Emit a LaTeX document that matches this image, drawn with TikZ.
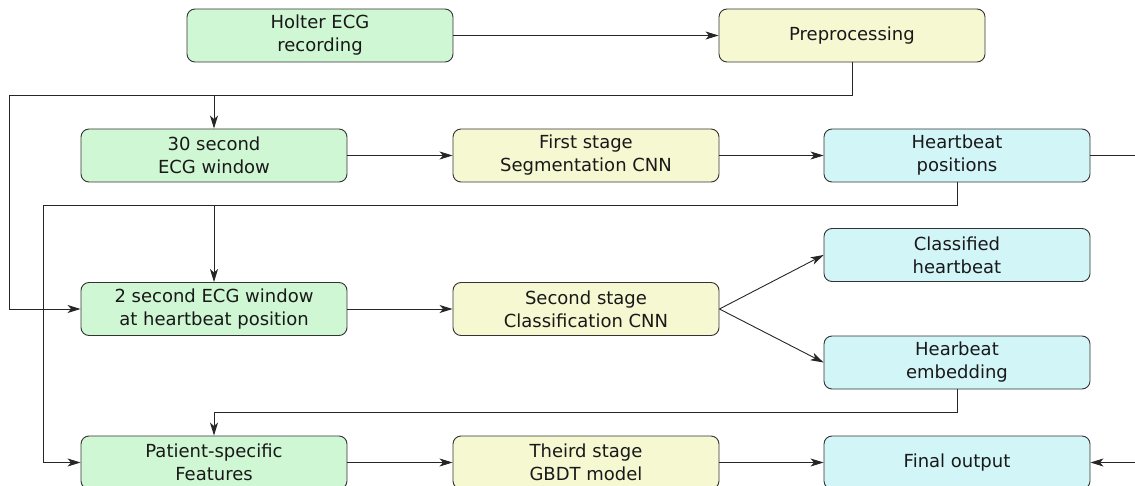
\documentclass[tikz,border=0pt]{standalone}
\usepackage{fontspec}
\setmainfont{DejaVu Sans}
\usetikzlibrary{arrows.meta}
\definecolor{boxgreen}{HTML}{CFF7D3}
\definecolor{boxyellow}{HTML}{F6F8D2}
\definecolor{boxcyan}{HTML}{D2F5F7}
\definecolor{edge}{HTML}{333333}
\tikzset{
  stagebox/.style={draw=edge, line width=0.9pt, rounded corners=8pt,
    minimum width=266pt, minimum height=53pt, inner sep=0pt,
    align=center, font=\fontsize{18}{23}\selectfont, text=black!90},
  gbox/.style={stagebox, fill=boxgreen},
  ybox/.style={stagebox, fill=boxyellow},
  cbox/.style={stagebox, fill=boxcyan},
  conn/.style={draw=black!85, line width=0.9pt},
  arr/.style={conn, -{Stealth[length=13pt,width=8pt,inset=3.5pt]}}
}
\begin{document}
\begin{tikzpicture}[x=1pt,y=-1pt]
\useasboundingbox (0,0) rectangle (1135,486);
\clip (0,0) rectangle (1135,486);
\node[gbox] (holter) at (320,35.5) {Holter ECG\\recording};
\node[ybox] (prep) at (852,35.5) {Preprocessing};
\node[gbox] (win30) at (214,155.5) {30 second\\ECG window};
\node[ybox] (seg) at (586,155.5) {First stage\\Segmentation CNN};
\node[cbox] (hpos) at (957,155.5) {Heartbeat\\positions};
\node[cbox] (cls) at (957,255) {Classified\\heartbeat};
\node[gbox] (win2) at (214,309) {2 second ECG window\\at heartbeat position};
\node[ybox] (cnn2) at (586,309) {Second stage\\Classification CNN};
\node[cbox] (emb) at (957,362.5) {Hearbeat\\embedding};
\node[gbox] (pat) at (214,462.5) {Patient-specific\\Features};
\node[ybox] (gbdt) at (586,462.5) {Theird stage\\GBDT model};
\node[cbox] (final) at (957,462.5) {Final output};

\coordinate (a1) at (9,95);
\coordinate (b1) at (43,205);
\coordinate (c1) at (214,412);
\coordinate (r1) at (1140,155.5);
\coordinate (r2) at (1140,462.5);

\draw[arr] (holter.east) -- (prep.west);
\draw[arr] (prep.south) |- (a1) |- (win2.west);
\draw[arr] (win30.north |- a1) -- (win30.north);
\draw[arr] (win30.east) -- (seg.west);
\draw[arr] (seg.east) -- (hpos.west);
\draw[conn] (hpos.east) -- (r1);
\draw[arr] (hpos.south) |- (b1) |- (pat.west);
\draw[arr] (win2.north |- b1) -- (win2.north);
\draw[arr] (win2.east) -- (cnn2.west);
\draw[arr] (cnn2.east) -- (cls.west);
\draw[arr] (cnn2.east) -- (emb.west);
\draw[arr] (emb.south) |- (c1) -- (pat.north);
\draw[arr] (pat.east) -- (gbdt.west);
\draw[arr] (gbdt.east) -- (final.west);
\draw[arr] (r2) -- (final.east);
\end{tikzpicture}
\end{document}
